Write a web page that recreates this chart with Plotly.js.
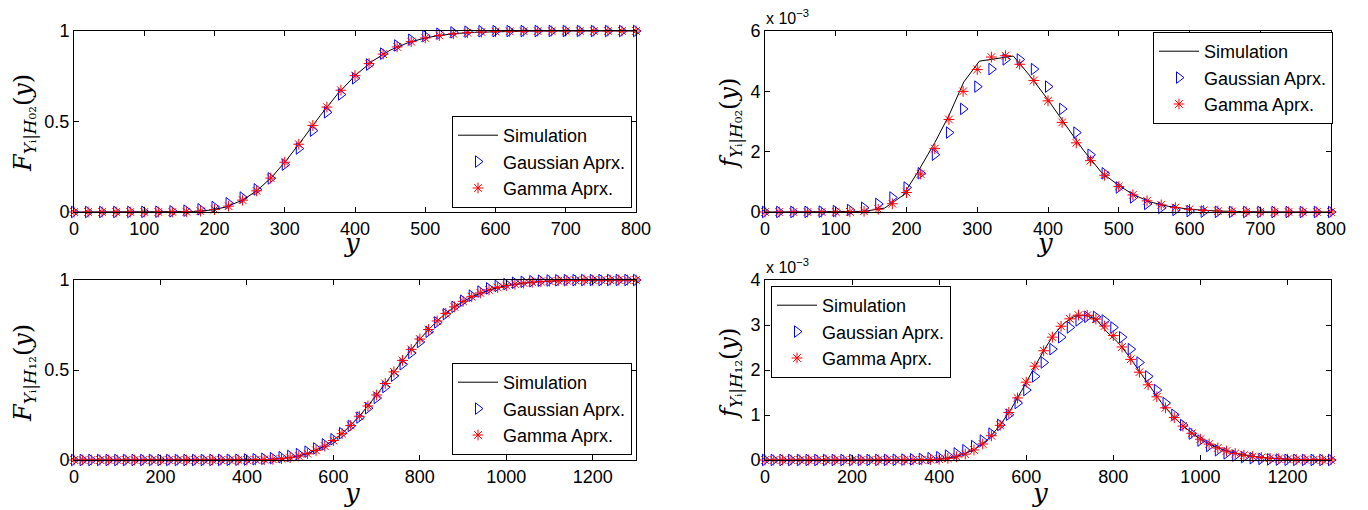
<!DOCTYPE html>
<html>
<head>
<meta charset="utf-8">
<script src="https://cdn.plot.ly/plotly-3.0.1.min.js"></script>
<style>html,body{margin:0;padding:0;background:#fff;}#chart{width:1368px;height:510px;}</style>
</head>
<body>
<div id="chart"></div>
<script>
// ---------- DATA ----------
// H02 panels (x = y-value, sample grid read from markers)
const xTop = [0,20,40,60,80,100,120,140,160,180,200,220,240,260,280,300,320,340,360,380,400,420,440,460,480,500,520,540,560,580,600,620,640,660,680,700,720,740,760,780,800];
const cdfGaussH02 = [0,0,0,0.0001,0.0003,0.0007,0.0017,0.0037,0.0076,0.0149,0.0276,0.0484,0.0799,0.1251,0.1855,0.2614,0.3507,0.4492,0.5508,0.6493,0.7386,0.8145,0.8749,0.9201,0.9516,0.9724,0.9851,0.9924,0.9964,0.9984,0.9993,0.9997,0.9999,1,1,1,1,1,1,1,1];
const cdfGammaH02 = [0,0,0,0,0,0,0,0.0003,0.0013,0.0048,0.0136,0.0322,0.0655,0.1168,0.1873,0.2749,0.3745,0.4783,0.5797,0.6727,0.7534,0.8200,0.8724,0.9121,0.9411,0.9615,0.9754,0.9847,0.9906,0.9944,0.9967,0.9981,0.9989,0.9994,0.9997,0.9998,0.9999,1,1,1,1];
// pdf values in units of 1e-3
const pdfGaussH02 = [0.0002,0.0007,0.002,0.0053,0.013,0.031,0.068,0.139,0.268,0.482,0.812,1.283,1.899,2.632,3.417,4.157,4.737,5.057,5.057,4.737,4.157,3.417,2.632,1.899,1.283,0.812,0.482,0.268,0.139,0.068,0.031,0.013,0.0053,0.002,0.0007,0.0002,0,0,0,0,0];
const pdfGammaH02 = [0,0,0,0,0,0.0004,0.0038,0.0227,0.0915,0.274,0.646,1.261,2.10,3.067,3.998,4.725,5.136,5.182,4.896,4.361,3.685,2.970,2.293,1.702,1.218,0.843,0.567,0.370,0.2355,0.146,0.0888,0.0528,0.0308,0.0177,0.0099,0.0055,0.003,0.0016,0.0009,0.0005,0.0002];
const xSimCdfH02 = [0,100,140,170,195,215,240,260,281,303,327,351,375,400,425,450,476,499,520,545,570,600,640,700,800];
const cdfSimH02  = [0,0,0.0003,0.0026,0.0107,0.0264,0.0655,0.1168,0.19,0.289,0.41,0.535,0.651,0.7534,0.834,0.894,0.936,0.9605,0.9754,0.9865,0.9927,0.9967,0.9989,0.9998,1.0];
const xSimPdfH02 = [0,100,140,169,195,215,240,260,281,303,351,375,400,425,450,476,499,520,545,570,600,640,700,800];
const pdfSimH02  = [0,0,0.02,0.13,0.55,1.29,2.3,3.2,4.31,5.0,5.17,4.5,3.72,2.88,2.05,1.30,0.90,0.58,0.33,0.19,0.09,0.03,0.005,0];

// H12 panels
const xBot = [0,20,40,60,80,100,120,140,160,180,200,220,240,260,280,300,320,340,360,380,400,420,440,460,480,500,520,540,560,580,600,620,640,660,680,700,720,740,760,780,800,820,840,860,880,900,920,940,960,980,1000,1020,1040,1060,1080,1100,1120,1140,1160,1180,1200,1220,1240,1260,1280,1300];
const cdfGaussH12 = [0,0,0,0,0,0,0,0,0,0,0,0,0,0,0,0.0002,0.0003,0.0005,0.0009,0.0015,0.0026,0.0042,0.0066,0.0102,0.0154,0.0228,0.0329,0.0465,0.0643,0.0869,0.1151,0.1492,0.1894,0.2358,0.2877,0.3446,0.4052,0.4681,0.5319,0.5948,0.6554,0.7123,0.7642,0.8106,0.8508,0.8849,0.9131,0.9357,0.9535,0.9671,0.9772,0.9846,0.9898,0.9934,0.9959,0.9974,0.9985,0.9991,0.9995,0.9997,0.9998,0.9999,1,1,1,1];
const cdfGammaH12 = [0,0,0,0,0,0,0,0,0,0,0,0,0,0,0,0,0,0,0,0.0002,0.0004,0.0009,0.002,0.004,0.0075,0.0132,0.022,0.0349,0.053,0.0772,0.1082,0.1463,0.1915,0.243,0.3002,0.3613,0.425,0.4896,0.5533,0.6145,0.6721,0.725,0.7725,0.8144,0.8507,0.8814,0.907,0.928,0.945,0.9584,0.969,0.9771,0.9832,0.9879,0.9913,0.9939,0.9957,0.997,0.9979,0.9986,0.999,0.9993,0.9995,0.9997,0.9998,0.9999];
const pdfGaussH12 = [0,0,0,0,0,0,0,0,0,0,0.0002,0.0004,0.0008,0.0015,0.0027,0.0049,0.0086,0.0147,0.0246,0.040,0.0633,0.0979,0.147,0.216,0.310,0.432,0.587,0.778,1.005,1.266,1.554,1.858,2.167,2.463,2.728,2.946,3.101,3.181,3.181,3.101,2.946,2.728,2.463,2.167,1.858,1.554,1.266,1.005,0.778,0.587,0.432,0.310,0.216,0.147,0.0979,0.0633,0.040,0.0246,0.0147,0.0086,0.0049,0.0027,0.0015,0.0008,0.0004,0.0002];
const pdfGammaH12 = [0,0,0,0,0,0,0,0,0,0,0,0,0,0,0,0.0001,0.0004,0.001,0.003,0.0076,0.0176,0.037,0.0722,0.131,0.223,0.356,0.538,0.771,1.055,1.379,1.730,2.086,2.428,2.730,2.972,3.137,3.220,3.217,3.132,2.977,2.765,2.512,2.236,1.951,1.671,1.404,1.160,0.943,0.754,0.594,0.462,0.354,0.267,0.199,0.147,0.107,0.0768,0.0547,0.0385,0.0268,0.0185,0.0127,0.0086,0.0058,0.0039,0.0026];
const xSimCdfH12 = [0,300,400,450,500,540,580,620,660,700,730,760,790,820,850,880,920,960,1000,1050,1100,1150,1200,1300];
const cdfSimH12  = [0,0,0.0004,0.003,0.013,0.035,0.077,0.146,0.243,0.361,0.457,0.553,0.643,0.725,0.794,0.851,0.907,0.945,0.969,0.9856,0.9939,0.9975,0.999,1.0];
const xSimPdfH12 = [0,300,350,400,440,480,510,540,565,590,615,640,663,688,712,737,760,785,810,835,860,885,910,935,960,990,1020,1060,1100,1150,1200,1300];
const pdfSimH12  = [0,0,0.0017,0.018,0.072,0.223,0.44,0.77,1.13,1.55,2.0,2.43,2.78,3.05,3.2,3.21,3.13,2.85,2.62,2.32,1.97,1.63,1.28,1.0,0.76,0.53,0.35,0.2,0.107,0.045,0.018,0.003];

const xTicksTop = [0,100,200,300,400,500,600,700,800];
const xTicksBot = [0,200,400,600,800,1000,1200];
const seriesNames = ['Simulation','Gaussian Aprx.','Gamma Aprx.'];

// ---------- STYLE ----------
const FONT = 'Liberation Sans, Arial, Helvetica, sans-serif';
const SERIF = 'DejaVu Serif, Liberation Serif, serif';
const W = 1368, H = 510;
const px = v => v / W;
const py = v => 1 - v / H;

function sim(x, y, xa, ya, lg) {
  return {x: x, y: y, xaxis: xa, yaxis: ya, legend: lg, name: seriesNames[0], type: 'scatter', mode: 'lines',
          line: {color: '#000', width: 1}, cliponaxis: false};
}
function gauss(x, y, xa, ya, lg) {
  return {x: x, y: y, xaxis: xa, yaxis: ya, legend: lg, name: seriesNames[1], type: 'scatter', mode: 'markers',
          marker: {symbol: 'triangle-right-open', size: 10, color: '#0000ff', line: {width: 1, color: '#0000ff'}}, cliponaxis: false};
}
function gamma(x, y, xa, ya, lg) {
  return {x: x, y: y, xaxis: xa, yaxis: ya, legend: lg, name: seriesNames[2], type: 'scatter', mode: 'markers',
          marker: {symbol: 'asterisk-open', size: 9, color: '#ff0000', line: {width: 1, color: '#ff0000'}}, cliponaxis: false};
}

const traces = [
  sim(xSimCdfH02, cdfSimH02, 'x', 'y', 'legend'),
  gauss(xTop, cdfGaussH02, 'x', 'y', 'legend'),
  gamma(xTop, cdfGammaH02, 'x', 'y', 'legend'),
  sim(xSimPdfH02, pdfSimH02, 'x2', 'y2', 'legend2'),
  gauss(xTop, pdfGaussH02, 'x2', 'y2', 'legend2'),
  gamma(xTop, pdfGammaH02, 'x2', 'y2', 'legend2'),
  sim(xSimCdfH12, cdfSimH12, 'x3', 'y3', 'legend3'),
  gauss(xBot, cdfGaussH12, 'x3', 'y3', 'legend3'),
  gamma(xBot, cdfGammaH12, 'x3', 'y3', 'legend3'),
  sim(xSimPdfH12, pdfSimH12, 'x4', 'y4', 'legend4'),
  gauss(xBot, pdfGaussH12, 'x4', 'y4', 'legend4'),
  gamma(xBot, pdfGammaH12, 'x4', 'y4', 'legend4')
];

function ax(extra) {
  return Object.assign({
    showline: true, mirror: 'ticks', ticks: 'inside', ticklen: 5, tickwidth: 1,
    linecolor: '#000', linewidth: 1, tickcolor: '#000', showgrid: false, zeroline: false,
    tickfont: {family: FONT, size: 18, color: '#000'}, fixedrange: true
  }, extra);
}

const dxL = [px(74), px(636)], dxR = [px(765), px(1331)];
const dyT = [py(212), py(31)], dyB = [py(460), py(280)];

function legendAt(x, y, xa, ya) {
  return {x: x, y: y, xanchor: xa, yanchor: ya, xref: 'paper', yref: 'paper',
          bgcolor: '#fff', bordercolor: '#000', borderwidth: 1,
          font: {family: FONT, size: 18, color: '#000'}, tracegroupgap: 0, itemwidth: 40};
}

const yTitleTop = '<i>F</i><sub><i>Y</i>ᵢ|<i>H</i>₀₂</sub>(<i>y</i>)';
const yTitleBot = '<i>F</i><sub><i>Y</i>ᵢ|<i>H</i>₁₂</sub>(<i>y</i>)';
const fTitleTop = '<i>f</i><sub><i>Y</i>ᵢ|<i>H</i>₀₂</sub>(<i>y</i>)';
const fTitleBot = '<i>f</i><sub><i>Y</i>ᵢ|<i>H</i>₁₂</sub>(<i>y</i>)';

function ann(text, x, y, opts) {
  return Object.assign({text: text, x: x, y: y, xref: 'paper', yref: 'paper', showarrow: false,
    xanchor: 'center', yanchor: 'middle',
    font: {family: SERIF, size: 24, color: '#000'}}, opts || {});
}
const yFont = {family: SERIF, size: 26, color: '#000'};
const expFont = {family: FONT, size: 16, color: '#000'};

const layout = {
  width: W, height: H, margin: {l: 0, r: 0, t: 0, b: 0},
  paper_bgcolor: '#fff', plot_bgcolor: '#fff', font: {family: FONT, color: '#000'},
  xaxis:  ax({domain: dxL, anchor: 'y',  range: [0, 800], tickvals: xTicksTop}),
  yaxis:  ax({domain: dyT, anchor: 'x',  range: [0, 1], tickvals: [0, 0.5, 1]}),
  xaxis2: ax({domain: dxR, anchor: 'y2', range: [0, 800], tickvals: xTicksTop}),
  yaxis2: ax({domain: dyT, anchor: 'x2', range: [0, 6], tickvals: [0, 2, 4, 6]}),
  xaxis3: ax({domain: dxL, anchor: 'y3', range: [0, 1300], tickvals: xTicksBot}),
  yaxis3: ax({domain: dyB, anchor: 'x3', range: [0, 1], tickvals: [0, 0.5, 1]}),
  xaxis4: ax({domain: dxR, anchor: 'y4', range: [0, 1300], tickvals: xTicksBot}),
  yaxis4: ax({domain: dyB, anchor: 'x4', range: [0, 4], tickvals: [0, 1, 2, 3, 4]}),
  legend:  legendAt(px(632), py(208), 'right', 'bottom'),
  legend2: legendAt(px(1333), py(32), 'right', 'top'),
  legend3: legendAt(px(632), py(455), 'right', 'bottom'),
  legend4: legendAt(px(771), py(286), 'left', 'top'),
  showlegend: true,
  annotations: [
    ann(yTitleTop, px(24), py(123), {textangle: -90}),
    ann(yTitleBot, px(24), py(373), {textangle: -90}),
    ann(fTitleTop, px(730), py(123), {textangle: -90}),
    ann(fTitleBot, px(730), py(373), {textangle: -90}),
    ann('<i>y</i>', px(352), py(259), {font: yFont, yanchor: 'bottom', borderpad: 0}),
    ann('<i>y</i>', px(1045), py(259), {font: yFont, yanchor: 'bottom', borderpad: 0}),
    ann('<i>y</i>', px(352), py(509), {font: yFont, yanchor: 'bottom', borderpad: 0}),
    ann('<i>y</i>', px(1040), py(509), {font: yFont, yanchor: 'bottom', borderpad: 0}),
    ann('x 10<sup>−3</sup>', px(764), py(29), {xanchor: 'left', yanchor: 'bottom', font: expFont}),
    ann('x 10<sup>−3</sup>', px(764), py(278), {xanchor: 'left', yanchor: 'bottom', font: expFont})
  ]
};

Plotly.newPlot('chart', traces, layout, {staticPlot: true, displayModeBar: false});
</script>
</body>
</html>
